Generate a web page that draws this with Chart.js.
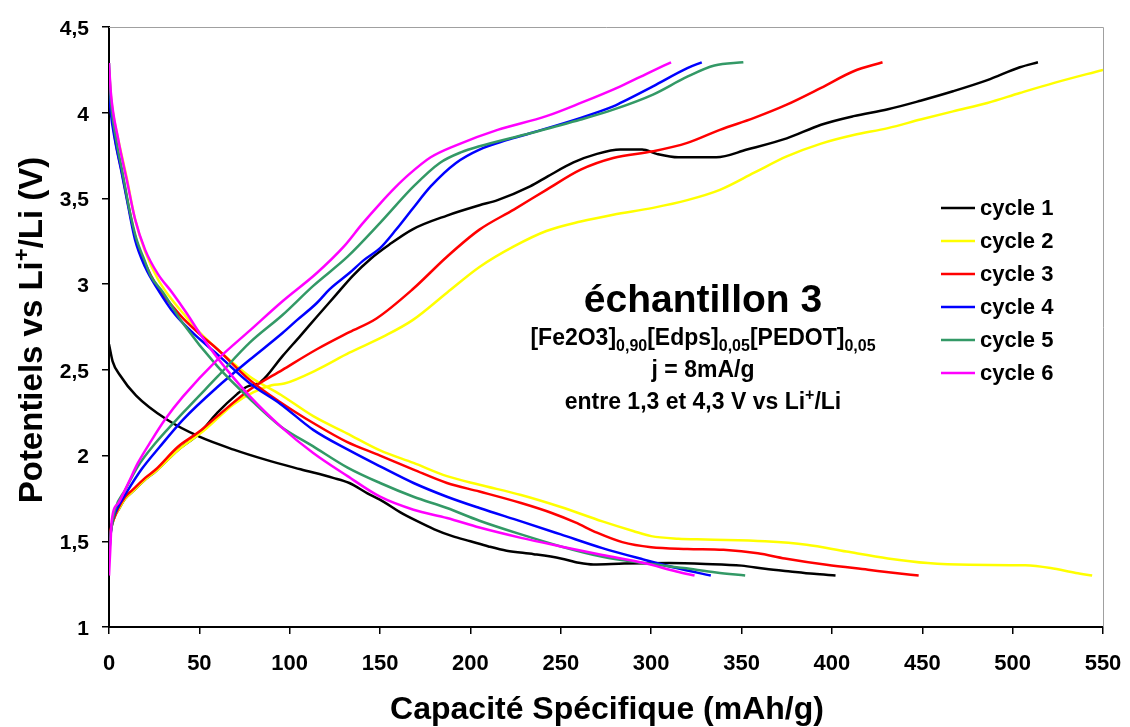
<!DOCTYPE html>
<html>
<head>
<meta charset="utf-8">
<script src="https://cdn.jsdelivr.net/npm/chart.js@4.4.0/dist/chart.umd.min.js"></script>
<style>
  body { margin: 0; background: #fff; }
  #wrap { width: 1130px; height: 727px; }
</style>
</head>
<body>
<div id="wrap"><canvas id="chart" width="1130" height="727"></canvas></div>
<script>
const cycleLabels = ["cycle 1", "cycle 2", "cycle 3", "cycle 4", "cycle 5", "cycle 6"];
const cycleColors = ["#000000", "#ffff00", "#ff0000", "#0000ff", "#339966", "#ff00ff"];
const xTickLabels = ["0", "50", "100", "150", "200", "250", "300", "350", "400", "450", "500", "550"];
const yTickLabels = ["1", "1,5", "2", "2,5", "3", "3,5", "4", "4,5"];

// [capacity mAh/g, potential V]
const cycle1Discharge = [[0,2.65],[2,2.55],[6,2.47],[15,2.35],[32,2.21],[50,2.11],[69,2.035],[87,1.975],[106,1.92],[124,1.87],[133,1.84],[143,1.78],[152,1.73],[161,1.67],[170,1.62],[180,1.57],[190,1.53],[200,1.50],[210,1.47],[220,1.445],[235,1.425],[250,1.40],[260,1.375],[268,1.365],[285,1.37],[310,1.373],[330,1.368],[350,1.358],[363,1.34],[377,1.324],[390,1.31],[402,1.30]];
const cycle1Charge = [[0,1.47],[1,1.56],[3,1.64],[5,1.68],[9,1.75],[13,1.79],[20,1.86],[26,1.91],[38,2.03],[50,2.13],[60,2.25],[71,2.36],[76,2.40],[84,2.43],[96,2.58],[106,2.70],[115,2.81],[125,2.93],[135,3.05],[145,3.15],[155,3.23],[168,3.32],[187,3.40],[205,3.46],[215,3.49],[233,3.57],[243,3.63],[257,3.71],[270,3.76],[283,3.785],[295,3.785],[303,3.76],[315,3.74],[336,3.74],[353,3.785],[375,3.85],[394,3.93],[412,3.98],[431,4.02],[449,4.07],[467,4.125],[486,4.19],[504,4.265],[514,4.294]];

const cycle2Discharge = [[0,4.25],[1,4.1],[2.5,3.98],[5.2,3.84],[9.8,3.62],[14.4,3.38],[20,3.19],[27,3.03],[34,2.92],[41,2.83],[50,2.72],[60,2.62],[78,2.46],[95,2.355],[113,2.23],[131.6,2.13],[150,2.03],[168.5,1.957],[187,1.88],[205,1.83],[228,1.77],[250,1.70],[273,1.616],[290,1.56],[300,1.53],[315,1.515],[330,1.51],[363,1.50],[386,1.48],[408,1.44],[431,1.40],[453,1.373],[476,1.363],[507,1.36],[521,1.344],[535,1.315],[544,1.30]];
const cycle2Charge = [[0,1.45],[1,1.56],[3,1.64],[5,1.68],[9,1.75],[13,1.79],[20,1.86],[26,1.91],[38,2.03],[53,2.15],[69,2.30],[80,2.37],[90,2.41],[97,2.42],[115,2.50],[133,2.60],[152,2.695],[168,2.79],[187,2.95],[205,3.10],[224,3.22],[242,3.31],[261,3.365],[279,3.405],[301,3.445],[320,3.49],[338,3.55],[357,3.65],[375,3.745],[394,3.82],[412,3.87],[431,3.91],[449,3.96],[467,4.008],[486,4.057],[504,4.115],[523,4.174],[550,4.25]];

const cycle3Discharge = [[0,4.2],[1,4.05],[3.3,3.85],[7,3.66],[10.7,3.46],[14.4,3.28],[20,3.12],[27,2.98],[36,2.86],[41,2.80],[50,2.71],[60,2.62],[78,2.44],[95,2.31],[113,2.19],[131.6,2.08],[150,2.0],[168.5,1.918],[187,1.84],[205,1.79],[228,1.723],[245,1.665],[258,1.61],[270,1.55],[284,1.495],[300,1.465],[320,1.455],[340,1.45],[359,1.43],[374,1.40],[397,1.363],[420,1.334],[435,1.315],[448,1.30]];
const cycle3Charge = [[0,1.45],[1,1.57],[3,1.64],[5,1.69],[9,1.76],[13,1.80],[20,1.87],[26,1.92],[38,2.05],[50,2.14],[60,2.23],[78,2.385],[96,2.50],[115,2.62],[133,2.72],[148,2.80],[168,2.97],[187,3.16],[205,3.318],[224,3.435],[242,3.55],[261,3.668],[279,3.736],[301,3.775],[320,3.824],[338,3.90],[357,3.97],[375,4.047],[394,4.145],[412,4.242],[428,4.294]];

const cycle4Discharge = [[0,4.15],[1,4.0],[3.3,3.84],[7,3.65],[10.7,3.45],[14.4,3.26],[20,3.10],[27,2.97],[36,2.83],[47,2.71],[60,2.59],[78,2.42],[95,2.30],[113,2.15],[133,2.03],[150,1.937],[168.5,1.84],[187,1.76],[205,1.694],[228,1.616],[250,1.54],[273,1.46],[296,1.393],[314,1.344],[333,1.30]];
const cycle4Charge = [[0,1.40],[1,1.55],[2,1.62],[4,1.68],[10,1.79],[18,1.92],[28,2.05],[41,2.21],[60,2.40],[78,2.56],[96,2.715],[104,2.79],[115,2.89],[122,2.97],[133,3.065],[141,3.14],[150,3.21],[159,3.32],[168,3.44],[178,3.57],[192,3.707],[205,3.785],[220,3.84],[233,3.88],[261,3.97],[279,4.037],[283,4.057],[301,4.154],[320,4.26],[328,4.294]];

const cycle5Discharge = [[0,4.29],[1,4.08],[4,3.84],[7.5,3.65],[11,3.45],[15,3.27],[20,3.13],[23,3.05],[30,2.95],[41,2.77],[60,2.52],[78,2.33],[95,2.17],[113,2.054],[132,1.93],[150,1.84],[168.5,1.76],[187,1.694],[205,1.62],[228,1.54],[250,1.47],[273,1.41],[296,1.373],[318,1.344],[336,1.318],[352,1.30]];
const cycle5Charge = [[0,1.42],[1,1.55],[3.3,1.684],[9,1.80],[16,1.937],[25.5,2.07],[41,2.25],[60,2.46],[78,2.66],[96,2.82],[113,2.99],[132,3.16],[150,3.357],[168.5,3.57],[183,3.707],[195,3.77],[205,3.804],[233,3.88],[261,3.96],[279,4.018],[301,4.106],[320,4.21],[335,4.275],[351,4.294]];

const cycle6Discharge = [[0,4.29],[1,4.12],[5.2,3.84],[9.8,3.61],[14.4,3.38],[20,3.20],[27,3.06],[35,2.95],[43,2.83],[51,2.70],[60,2.57],[78,2.345],[96,2.16],[113,2.015],[132,1.88],[150,1.76],[168.5,1.684],[187,1.636],[205,1.58],[228,1.52],[250,1.47],[273,1.42],[296,1.373],[314,1.324],[324,1.30]];
const cycle6Charge = [[0,1.30],[0.7,1.45],[1.5,1.62],[5.2,1.723],[10.7,1.84],[16,1.957],[23.6,2.09],[31,2.21],[41,2.345],[60,2.56],[78,2.73],[96,2.90],[115,3.065],[130,3.22],[140,3.35],[150,3.47],[158,3.56],[166,3.64],[178,3.74],[192,3.81],[215,3.90],[242,3.98],[261,4.057],[283,4.154],[298,4.23],[311,4.294]];

const discharges = [cycle1Discharge, cycle2Discharge, cycle3Discharge, cycle4Discharge, cycle5Discharge, cycle6Discharge];
const charges = [cycle1Charge, cycle2Charge, cycle3Charge, cycle4Charge, cycle5Charge, cycle6Charge];

const FONT = '"Liberation Sans", Arial, sans-serif';
Chart.defaults.font.family = FONT;
Chart.defaults.color = "#000";

// draw a line of text made of runs: [text, kind] with kind "sub", "sup" or ""
function drawRuns(ctx, runs, cx, baseline, size) {
  const fontFor = (kind) => `bold ${kind ? Math.round(size * 0.68) : size}px ${FONT}`;
  let total = 0;
  runs.forEach(([t, kind]) => { ctx.font = fontFor(kind); total += ctx.measureText(t).width; });
  let x = cx - total / 2;
  ctx.textAlign = "left";
  ctx.textBaseline = "alphabetic";
  runs.forEach(([t, kind]) => {
    ctx.font = fontFor(kind);
    let dy = 0;
    if (kind === "sub") dy = size * 0.28;
    if (kind === "sup") dy = -size * 0.38;
    ctx.fillText(t, x, baseline + dy);
    x += ctx.measureText(t).width;
  });
}

const datasets = [];
cycleLabels.forEach((label, i) => {
  [discharges[i], charges[i]].forEach((pts) => {
    datasets.push({
      label,
      data: pts.map(([x, y]) => ({ x, y })),
      borderColor: cycleColors[i],
      backgroundColor: cycleColors[i],
      borderWidth: 2.5,
      pointRadius: 0,
      showLine: true,
      fill: false,
      cubicInterpolationMode: "monotone",
      order: cycleLabels.length - i,
    });
  });
});

// thin grey frame on top and right of the plot
const framePlugin = {
  id: "frame",
  beforeDatasetsDraw(chart) {
    const { ctx, chartArea: a } = chart;
    ctx.save();
    ctx.strokeStyle = "#a0a0a0";
    ctx.lineWidth = 1;
    ctx.beginPath();
    ctx.moveTo(a.left, a.top + 0.5);
    ctx.lineTo(a.right + 0.5, a.top + 0.5);
    ctx.lineTo(a.right + 0.5, a.bottom);
    ctx.stroke();
    ctx.restore();
  },
};

// axis titles, sample description and the cycle legend
const textPlugin = {
  id: "texts",
  afterDraw(chart) {
    const { ctx, chartArea: a } = chart;
    ctx.save();
    ctx.fillStyle = "#000";

    drawRuns(ctx, [["Capacité Spécifique (mAh/g)", ""]], (a.left + a.right) / 2 + 1, 719, 32);

    ctx.save();
    ctx.translate(30, (a.top + a.bottom) / 2 + 3);
    ctx.rotate(-Math.PI / 2);
    drawRuns(ctx, [["Potentiels vs Li", ""], ["+", "sup"], ["/Li (V)", ""]], 0, 12, 33);
    ctx.restore();

    const cx = 703;
    drawRuns(ctx, [["échantillon 3", ""]], cx, 312, 39);
    drawRuns(ctx, [["[Fe2O3]", ""], ["0,90", "sub"], ["[Edps]", ""], ["0,05", "sub"], ["[PEDOT]", ""], ["0,05", "sub"]], cx, 345, 23);
    drawRuns(ctx, [["j = 8mA/g", ""]], cx, 377, 23);
    drawRuns(ctx, [["entre 1,3 et 4,3 V vs Li", ""], ["+", "sup"], ["/Li", ""]], cx, 409, 23);

    cycleLabels.forEach((label, i) => {
      const y = 208 + i * 33;
      ctx.strokeStyle = cycleColors[i];
      ctx.lineWidth = 2.5;
      ctx.beginPath();
      ctx.moveTo(941, y);
      ctx.lineTo(975, y);
      ctx.stroke();
      ctx.font = `bold 22px ${FONT}`;
      ctx.textAlign = "left";
      ctx.textBaseline = "middle";
      ctx.fillText(label, 980, y + 1);
    });
    ctx.restore();
  },
};

new Chart(document.getElementById("chart"), {
  type: "scatter",
  data: { datasets },
  options: {
    responsive: false,
    animation: false,
    devicePixelRatio: 1,
    layout: { padding: { top: 27, right: 27, left: 0, bottom: 0 } },
    plugins: { legend: { display: false }, tooltip: { enabled: false } },
    scales: {
      x: {
        type: "linear",
        min: 0,
        max: 550,
        ticks: {
          stepSize: 50,
          padding: 17,
          font: { size: 22, weight: "bold" },
          callback: (v, i) => xTickLabels[i],
        },
        grid: { drawOnChartArea: false, color: "#000", lineWidth: 1.5, tickLength: 7 },
        border: { color: "#000", width: 2 },
        afterFit(scale) {
          scale.height = 100;
          scale.paddingLeft = 0;
          scale.paddingRight = 0;
        },
      },
      y: {
        type: "linear",
        min: 1,
        max: 4.5,
        ticks: {
          stepSize: 0.5,
          padding: 13,
          labelOffset: 2,
          font: { size: 21, weight: "bold" },
          callback: (v, i) => yTickLabels[i],
        },
        grid: { drawOnChartArea: false, color: "#000", lineWidth: 1.5, tickLength: 7 },
        border: { color: "#000", width: 2 },
        afterFit(scale) {
          scale.width = 109;
          scale.paddingTop = 0;
          scale.paddingBottom = 0;
        },
      },
    },
  },
  plugins: [framePlugin, textPlugin],
});
</script>
</body>
</html>
